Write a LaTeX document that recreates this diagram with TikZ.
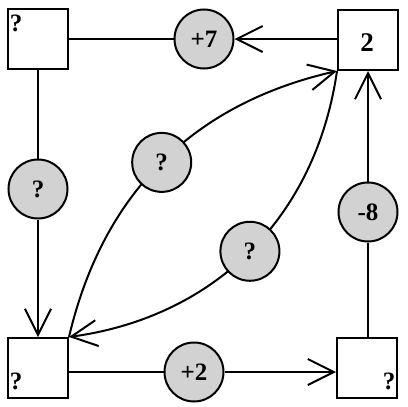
\documentclass[tikz,border=0pt]{standalone}
\usepackage{fontspec}
\setmainfont{Liberation Serif}
\usetikzlibrary{arrows.meta,calc}
\begin{document}
\begin{tikzpicture}[x=1pt,y=-1pt, line width=2pt,
  box/.style={draw, minimum size=60pt, inner sep=0pt},
  circ/.style={draw, circle, fill=gray!35, minimum size=59pt, inner sep=0pt, font=\fontsize{25}{25}\selectfont\bfseries},
  lbl/.style={font=\fontsize{25}{25}\selectfont\bfseries, inner sep=0pt},
  arr/.style={-{Straight Barb[length=26pt,width=26pt]}}]
\useasboundingbox (0,0) rectangle (408,407);
% boxes
\node[box] (TL) at (38,39) {};
\node[box] (TR) at (368,40) {};
\node[box] (BL) at (38,368) {};
\node[box] (BR) at (367,368) {};
% box labels
\node[lbl] (qTL) at (16,23) {?};
\node[lbl, font=\fontsize{27}{27}\selectfont\bfseries] (nTR) at (367,43) {2};
\node[lbl] (qBL) at (16,381) {?};
\node[lbl] (qBR) at (389,381) {?};
% circles
\node[circ] (c7) at (204,39) {+7};
\node[circ] (cq) at (38,189) {?};
\node[circ] (c8) at (368,212) {-8};
\node[circ] (c2) at (194,372) {+2};
% straight connectors
\draw[arr] (TR.west |- c7) -- (c7);
\draw (c7) -- (TL.east |- c7);
\draw (TL.south -| cq) -- (cq);
\draw[arr] (cq) -- (BL.north -| cq);
\draw (BL.east |- c2) -- (c2);
\draw[arr] (c2) -- (BR.west |- c2);
\draw (BR.north -| c8) -- (c8);
\draw[arr] (c8) -- (TR.south -| c8);
% curved connectors
\draw[arr] (BL.north east) to[bend left=32] node[circ] (cu) {?} (TR.south west);
\draw[arr] (TR.south west) to[bend left=37] node[circ] (cl) {?} (BL.north east);
\end{tikzpicture}
\end{document}
